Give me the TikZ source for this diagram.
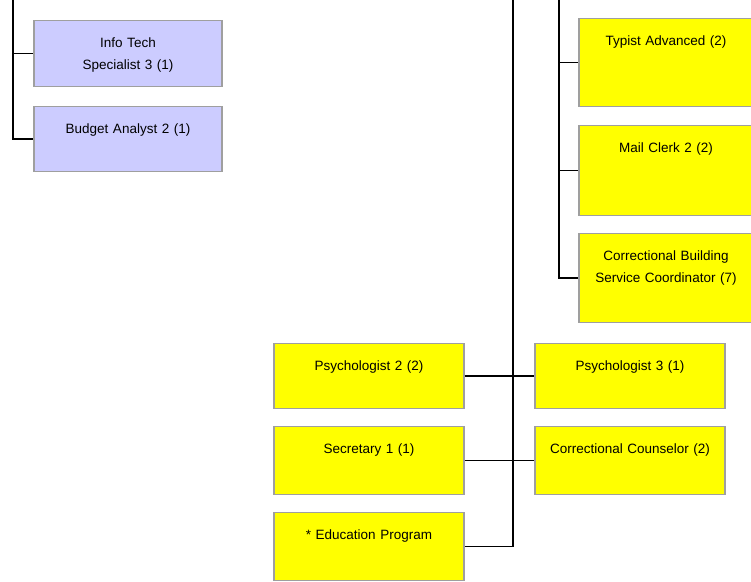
\documentclass[tikz,border=0pt]{standalone}
\usepackage{fontspec}
\setmainfont{Liberation Sans}
\definecolor{staffyellow}{RGB}{255,255,0}
\definecolor{staffblue}{RGB}{204,204,255}

\begin{document}
\begin{tikzpicture}[
  x=1pt,y=-1pt,
  box/.style={draw=gray!75,line width=1.3pt,inner sep=0pt,anchor=north,
    align=center,text height=27pt,font=\fontsize{13.5}{22}\selectfont},
  yellowbox/.style={box,fill=staffyellow},
  bluebox/.style={box,fill=staffblue},
  link/.style={black,line width=1.4pt}
]
  \clip (0,0) rectangle (751,581);

  \begin{scope}
    \node[bluebox,text width=188pt,text depth=39pt] (infotech) at (128,20) {Info Tech\\Specialist 3 (1)};
    \node[bluebox,text width=188pt,text depth=38pt] (budget) at (128,106) {Budget Analyst 2 (1)};
    \coordinate (ltop) at (13,-5);
    \draw[link] (ltop) |- (infotech.west);
    \draw[link] (ltop) |- (budget.west);
  \end{scope}

  \begin{scope}
    \node[yellowbox,text width=174pt,text depth=61pt] (typist) at (666,18) {Typist Advanced (2)};
    \node[yellowbox,text width=174pt,text depth=63pt] (mail) at (666,125) {Mail Clerk 2 (2)};
    \node[yellowbox,text width=174pt,text depth=62pt] (building) at (666,233) {Correctional Building\\Service Coordinator (7)};
    \coordinate (rtop) at (559,-5);
    \draw[link] (rtop) |- (typist.west);
    \draw[link] (rtop) |- (mail.west);
    \draw[link] (rtop) |- (building.west);
  \end{scope}

  \begin{scope}
    \node[yellowbox,text width=190pt,text depth=38pt] (psych2) at (369,343) {Psychologist 2 (2)};
    \node[yellowbox,text width=190pt,text depth=41pt] (secretary) at (369,426) {Secretary 1 (1)};
    \node[yellowbox,text width=190pt,text depth=41pt] (edu) at (369,512) {* Education Program};
    \node[yellowbox,text width=190pt,text depth=38pt] (psych3) at (630,343) {Psychologist 3 (1)};
    \node[yellowbox,text width=190pt,text depth=41pt] (counselor) at (630,426) {Correctional Counselor (2)};
    \coordinate (mtop) at (513,-5);
    \draw[link] (mtop) |- (edu.east);
    \draw[link] (psych2.east) -- (psych3.west);
    \draw[link] (secretary.east) -- (counselor.west);
  \end{scope}
\end{tikzpicture}
\end{document}
